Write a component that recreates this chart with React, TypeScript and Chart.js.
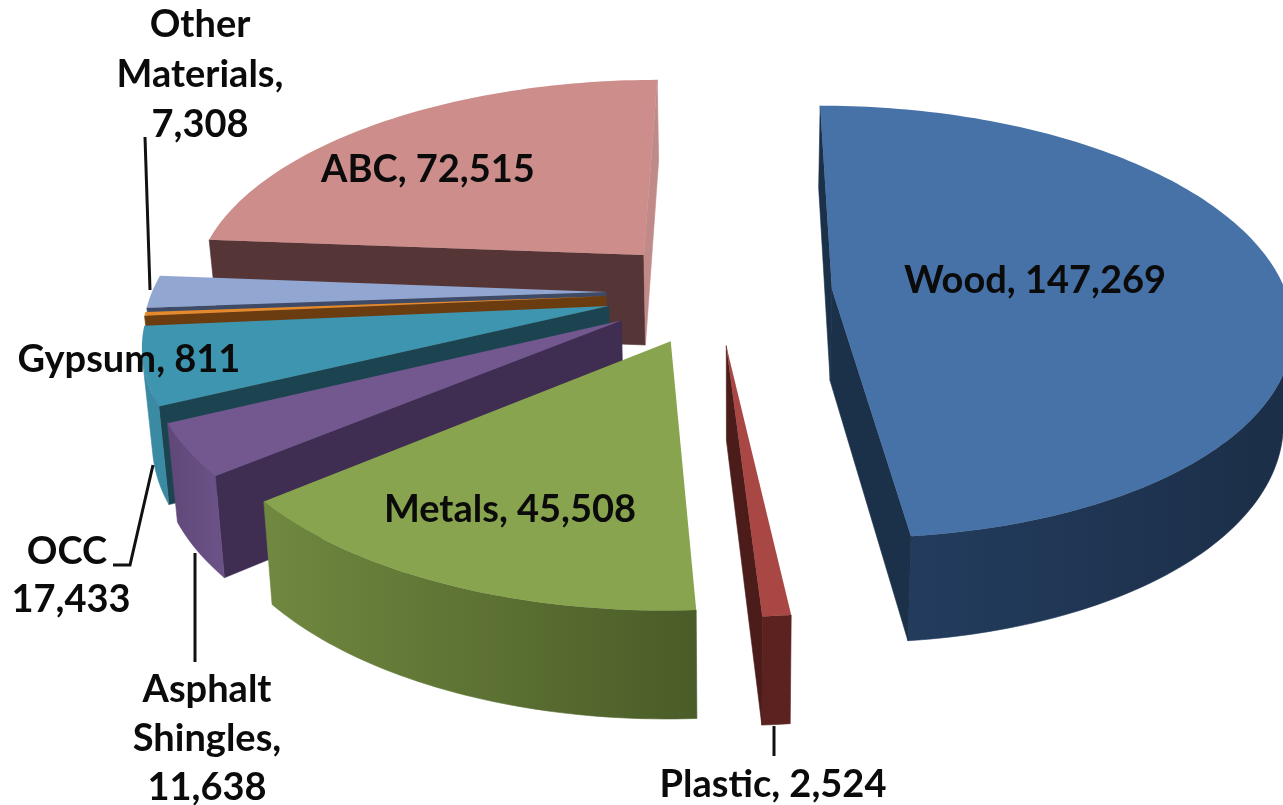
import React, { useEffect, useRef } from "react";
import { Chart, registerables } from "chart.js";

Chart.register(...registerables);

// Tonnage by material, clockwise from twelve o'clock
const categories = ["Wood", "Plastic", "Metals", "Asphalt Shingles", "OCC", "Gypsum", "Other Materials", "ABC"];
const tonnage = [147269, 2524, 45508, 11638, 17433, 811, 7308, 72515];
const explode = [163, 157, 157, 157, 157, 157, 157, 157];

const topColors = ["#4672a8", "#a94745", "#88a44e", "#73588f", "#3e95b0", "#e58a2b", "#91a7d1", "#cd8d8b"];
const startFaceColors = ["#1b3049", "#5c2220", "#7f9a49", "#3f2d52", "#1c4450", "#6b3c10", "#3e4a66", "#553535"];
const endFaceColors = ["#1b3049", "#4c1c1a", "#7f9a49", "#5e4878", "#2f7e95", "#7a4a18", "#7f90b8", "#c08a88"];
const rimFromColors = ["#1b2e47", "#5c2220", "#4a5c28", "#6a5186", "#3a8aa3", "#7a4a18", "#8497c0", "#553535"];
const rimToColors = ["#233c5e", "#5c2220", "#70883f", "#5f4878", "#3a8aa3", "#7a4a18", "#8497c0", "#553535"];

// Wrapped text of each data label; "#" stands for the formatted value
const labelLines = [
  ["Wood, #"],
  ["Plastic, #"],
  ["Metals, #"],
  ["Asphalt", "Shingles,", "#"],
  ["OCC", "#"],
  ["Gypsum, #"],
  ["Other", "Materials,", "#"],
  ["ABC, #"],
];
const labelCentersX = [1035, 773, 510, 207, 71, 129, 200, 428];
const labelFirstLineY = [281, 785, 510, 690, 552, 360, 25, 170];
const labelLineSteps = [0, 0, 0, 49, 48, 0, 50, 0];
// Sideways nudge of a label's first line, keeping it clear of its leader
const labelFirstLineNudge = [0, 0, 0, 0, -4, 0, 0, 0];

const leaderPaths = [
  [[145, 137], [150, 290]],
  [[774, 726], [774, 756]],
  [[195, 553], [195, 662]],
  [[113, 565], [130, 565], [153, 465]],
];

// Camera of the tilted pie: the unit disc seen in perspective
const view = {
  cx: 717,
  cy: 292,
  a: 454,
  b: 212,
  k: 0.1515,
  skew: 1.25,
  bend: 2.55,
  depth: 92,
  depthPower: 0.8,
  vanishX: 735,
  converge: 0.0175,
};

function project(X: number, Y: number, low: boolean) {
  const w = 1 + view.k * Y;
  let sx = view.cx + (view.a * X + view.skew * Y + view.bend * Y * Y) / w;
  let sy = view.cy - (view.b * Y) / w;
  if (low) {
    sy += view.depth / Math.pow(w, view.depthPower);
    sx += (view.vanishX - sx) * view.converge;
  }
  return { x: sx, y: sy };
}

type Pt = { x: number; y: number };

function tracePolygon(ctx: CanvasRenderingContext2D, pts: Pt[]) {
  ctx.beginPath();
  pts.forEach((p, i) => (i ? ctx.lineTo(p.x, p.y) : ctx.moveTo(p.x, p.y)));
  ctx.closePath();
}

function signedArea(pts: Pt[]) {
  let area = 0;
  pts.forEach((p, i) => {
    const q = pts[(i + 1) % pts.length];
    area += p.x * q.y - q.x * p.y;
  });
  return area / 2;
}

function faces(a: number[], b: number[]) {
  return (
    signedArea([project(a[0], a[1], false), project(b[0], b[1], false), project(b[0], b[1], true), project(a[0], a[1], true)]) < 0
  );
}

function fillWall(ctx: CanvasRenderingContext2D, path: number[][], fill: string | CanvasGradient) {
  const upper = path.map((p) => project(p[0], p[1], false));
  const lower = path.map((p) => project(p[0], p[1], true)).reverse();
  tracePolygon(ctx, [...upper, ...lower]);
  ctx.fillStyle = fill;
  ctx.strokeStyle = fill;
  ctx.lineWidth = 0.6;
  ctx.fill();
  ctx.stroke();
}

const extrudedPie = {
  id: "extrudedPie",
  beforeDatasetsDraw(chart: any) {
    const { ctx } = chart;
    const arcs = chart.getDatasetMeta(0).data;
    ctx.save();
    // Far wedges first, so nearer ones cover them
    for (let i = arcs.length - 1; i >= 0; i--) {
      const arc = arcs[i];
      const { startAngle, endAngle, outerRadius } = arc.getProps(["startAngle", "endAngle", "outerRadius"], true);
      const shift = arc.options.offset / 2 / outerRadius;
      const mid = (startAngle + endAngle) / 2;
      const ox = Math.cos(mid) * shift;
      const oy = -Math.sin(mid) * shift;
      const steps = Math.max(2, Math.ceil((endAngle - startAngle) / 0.02));
      const rim: number[][] = [];
      for (let s = 0; s <= steps; s++) {
        const t = startAngle + ((endAngle - startAngle) * s) / steps;
        rim.push([ox + Math.cos(t), oy - Math.sin(t)]);
      }
      const apex = [ox, oy];

      if (faces(apex, rim[0])) fillWall(ctx, [apex, rim[0]], startFaceColors[i]);

      // The outer wall is shaded along the stretch that faces the camera
      const visible: number[][] = [];
      for (let s = 0; s < steps; s++) {
        if (faces(rim[s], rim[s + 1])) {
          if (!visible.length) visible.push(rim[s]);
          visible.push(rim[s + 1]);
        }
      }
      if (visible.length > 1) {
        const from = project(visible[0][0], visible[0][1], false);
        const to = project(visible[visible.length - 1][0], visible[visible.length - 1][1], false);
        const shade = ctx.createLinearGradient(from.x, 0, to.x === from.x ? from.x + 1 : to.x, 0);
        shade.addColorStop(0, rimFromColors[i]);
        shade.addColorStop(1, rimToColors[i]);
        fillWall(ctx, visible, shade);
      }

      if (faces(rim[steps], apex)) fillWall(ctx, [rim[steps], apex], endFaceColors[i]);

      tracePolygon(ctx, [project(apex[0], apex[1], false), ...rim.map((p) => project(p[0], p[1], false))]);
      ctx.fillStyle = topColors[i];
      ctx.fill();
    }
    ctx.restore();
    return false;
  },
  afterDraw(chart: any) {
    const { ctx } = chart;
    ctx.save();
    ctx.strokeStyle = "#111111";
    ctx.lineWidth = 3;
    ctx.lineJoin = "miter";
    leaderPaths.forEach((path) => {
      ctx.beginPath();
      path.forEach(([x, y], i) => (i ? ctx.lineTo(x, y) : ctx.moveTo(x, y)));
      ctx.stroke();
    });
    ctx.fillStyle = "#0b0b0b";
    ctx.font = 'bold 38px Lato, "Open Sans", sans-serif';
    ctx.textAlign = "center";
    ctx.textBaseline = "middle";
    categories.forEach((_, i) => {
      const value = tonnage[i].toLocaleString("en-US");
      labelLines[i].forEach((line, n) => {
        const x = labelCentersX[i] + (n === 0 ? labelFirstLineNudge[i] : 0);
        ctx.fillText(line.replace("#", value), x, labelFirstLineY[i] + n * labelLineSteps[i]);
      });
    });
    ctx.restore();
  },
};

export default function App() {
  const canvasRef = useRef<HTMLCanvasElement | null>(null);

  useEffect(() => {
    const chart = new Chart(canvasRef.current as HTMLCanvasElement, {
      type: "pie",
      data: {
        labels: categories,
        datasets: [{ data: tonnage, backgroundColor: topColors, borderWidth: 0, offset: explode }],
      },
      options: {
        responsive: false,
        devicePixelRatio: 1,
        animation: false,
        layout: { padding: 0 },
        plugins: { legend: { display: false }, tooltip: { enabled: false } },
      },
      plugins: [extrudedPie],
    } as any);
    return () => chart.destroy();
  }, []);

  return (
    <div style={{ position: "fixed", left: 0, top: 0, width: 1283, height: 805, background: "#ffffff" }}>
      <canvas ref={canvasRef} width={1283} height={805} style={{ display: "block" }} />
    </div>
  );
}
